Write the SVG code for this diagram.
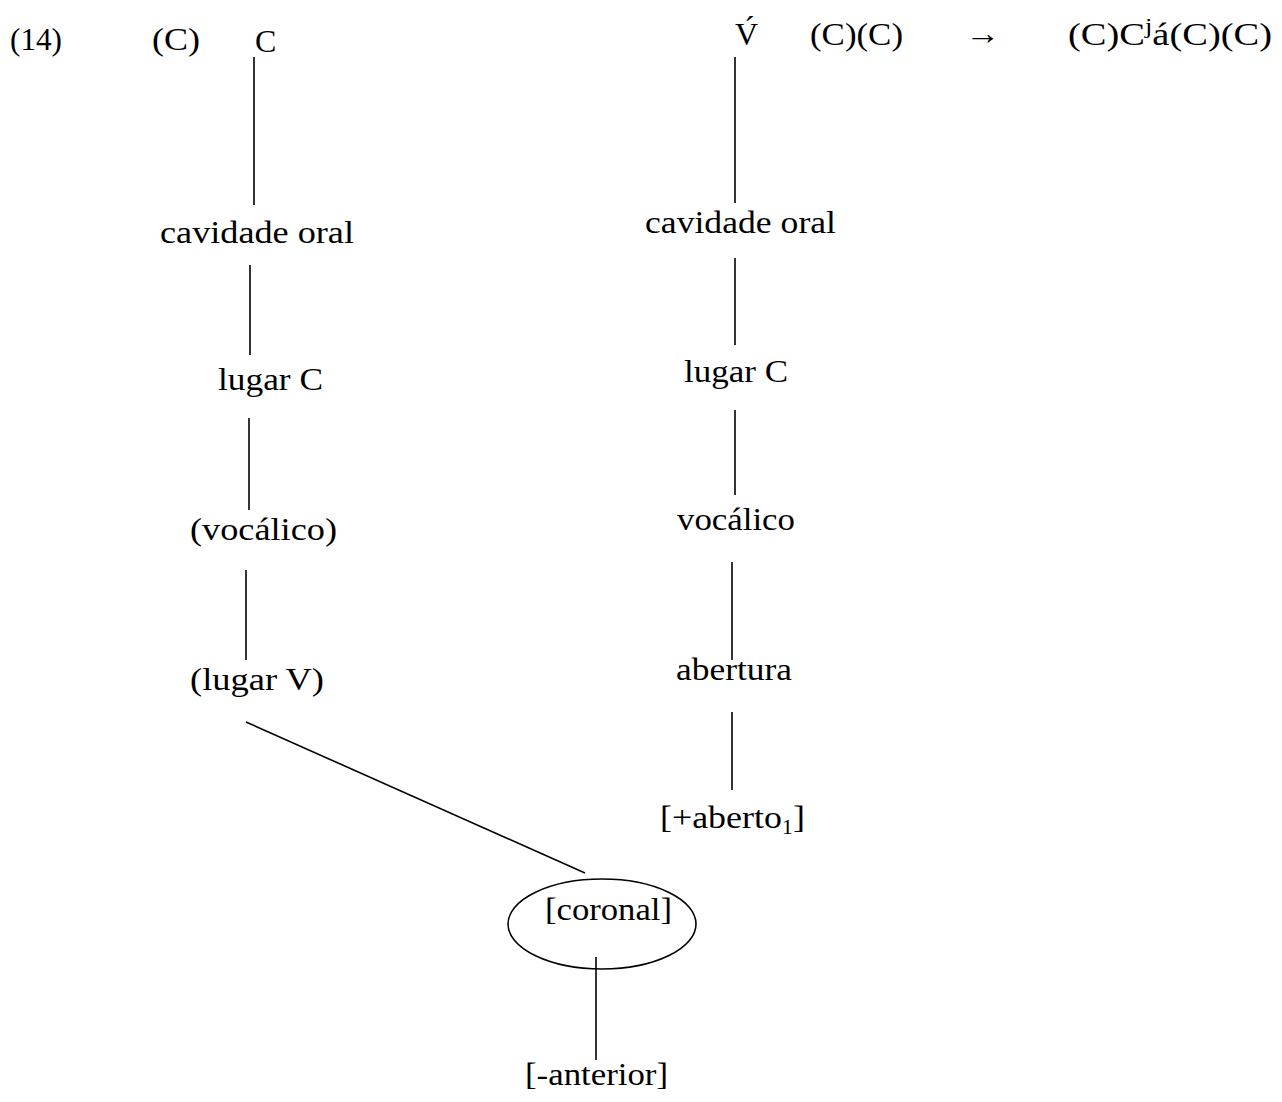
<svg xmlns="http://www.w3.org/2000/svg" width="1282" height="1102" viewBox="0 0 1282 1102">
<style>
text{font-family:"Liberation Serif","Times New Roman",serif;font-size:32px;fill:#000}
.ln{stroke:#000;stroke-width:1.6;fill:none}
</style>
<rect width="1282" height="1102" fill="#fff"/>
<g id="header">
<text x="10" y="50" textLength="52" lengthAdjust="spacingAndGlyphs">(14)</text>
<text x="152" y="50" textLength="48" lengthAdjust="spacingAndGlyphs">(C)</text>
<text x="810" y="45" textLength="93" lengthAdjust="spacingAndGlyphs">(C)(C)</text>
<text x="965" y="44" textLength="35" lengthAdjust="spacingAndGlyphs">→</text>
<text x="1068" y="45" textLength="204" lengthAdjust="spacingAndGlyphs">(C)C<tspan font-size="22" dy="-12">j</tspan><tspan dy="12">á(C)(C)</tspan></text>
</g>
<g id="connectors">
<line class="ln" x1="254" y1="57" x2="254" y2="205"/>
<line class="ln" x1="250" y1="265" x2="250" y2="355"/>
<line class="ln" x1="249" y1="418" x2="249" y2="510"/>
<line class="ln" x1="246" y1="570" x2="246" y2="660"/>
<line class="ln" x1="246" y1="722" x2="585" y2="873"/>
<line class="ln" x1="735" y1="57" x2="735" y2="203"/>
<line class="ln" x1="735" y1="258" x2="735" y2="345"/>
<line class="ln" x1="735" y1="410" x2="735" y2="495"/>
<line class="ln" x1="732" y1="562" x2="732" y2="660"/>
<line class="ln" x1="732" y1="712" x2="732" y2="790"/>
<line class="ln" x1="596" y1="957" x2="596" y2="1060"/>
</g>
<g id="n-C"><text x="255" y="52" font-size="34">C</text></g>
<g id="n-cav1"><text x="160" y="243" textLength="194" lengthAdjust="spacingAndGlyphs">cavidade oral</text></g>
<g id="n-lugC1"><text x="218" y="390" textLength="105" lengthAdjust="spacingAndGlyphs">lugar C</text></g>
<g id="n-voc1"><text x="190" y="540" textLength="147" lengthAdjust="spacingAndGlyphs">(vocálico)</text></g>
<g id="n-lugV"><text x="190" y="690" textLength="134" lengthAdjust="spacingAndGlyphs">(lugar V)</text></g>
<g id="n-V"><text x="735" y="45" font-size="34">V&#x301;</text></g>
<g id="n-cav2"><text x="645" y="233" textLength="191" lengthAdjust="spacingAndGlyphs">cavidade oral</text></g>
<g id="n-lugC2"><text x="684" y="382" textLength="104" lengthAdjust="spacingAndGlyphs">lugar C</text></g>
<g id="n-voc2"><text x="677" y="530" textLength="118" lengthAdjust="spacingAndGlyphs">vocálico</text></g>
<g id="n-abert"><text x="676" y="680" textLength="116" lengthAdjust="spacingAndGlyphs">abertura</text></g>
<g id="n-aberto"><text x="660" y="828" textLength="145" lengthAdjust="spacingAndGlyphs">[+aberto<tspan font-size="20" dy="6">1</tspan><tspan dy="-6">]</tspan></text></g>
<g id="n-coronal">
<ellipse class="ln" cx="602" cy="924" rx="94" ry="45"/>
<text x="545" y="920" textLength="127" lengthAdjust="spacingAndGlyphs">[coronal]</text>
</g>
<g id="n-anterior"><text x="525" y="1085" textLength="143" lengthAdjust="spacingAndGlyphs">[-anterior]</text></g>
</svg>
